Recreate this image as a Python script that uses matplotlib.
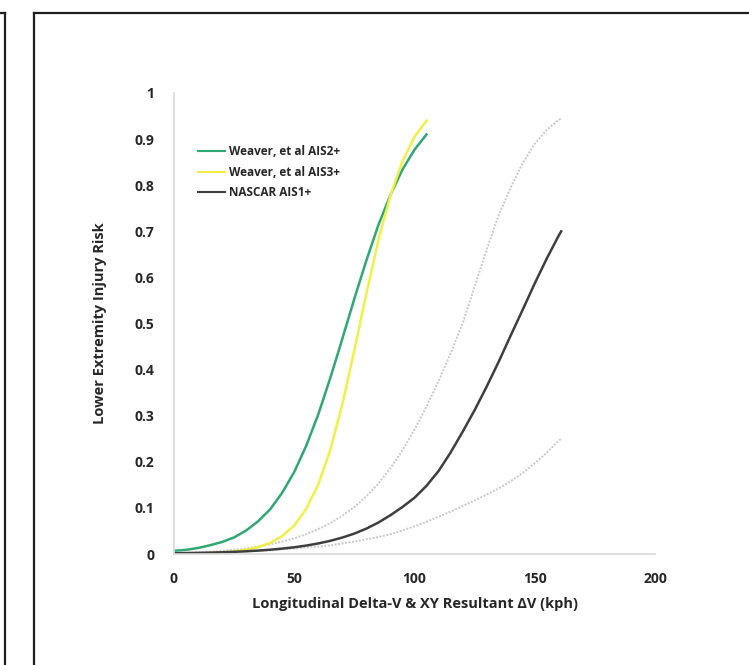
import matplotlib
matplotlib.use("Agg")
import matplotlib.pyplot as plt
from matplotlib.lines import Line2D

# Delta-V (kph) sample points for each risk curve
dv_weaver = [0, 5, 10, 15, 20, 25, 30, 35, 40, 45, 50, 55, 60, 65, 70,
             75, 80, 85, 90, 95, 100, 105]
risk_ais2 = [0.007, 0.009, 0.013, 0.019, 0.026, 0.036, 0.051, 0.071, 0.097,
             0.133, 0.178, 0.235, 0.303, 0.382, 0.467, 0.554, 0.637, 0.714,
             0.779, 0.834, 0.877, 0.910]
risk_ais3 = [0.0005, 0.0008, 0.0012, 0.002, 0.0033, 0.0055, 0.009, 0.015,
             0.024, 0.039, 0.062, 0.098, 0.151, 0.226, 0.325, 0.442, 0.565,
             0.681, 0.778, 0.852, 0.905, 0.940]

dv_nascar = [0, 5, 10, 15, 20, 25, 30, 35, 40, 45, 50, 55, 60, 65, 70, 75,
             80, 85, 90, 95, 100, 105, 110, 115, 120, 125, 130, 135, 140,
             145, 150, 155, 160, 161]
risk_ais1 = [0.0015, 0.0019, 0.0024, 0.003, 0.0038, 0.0047, 0.0059, 0.0074,
             0.0093, 0.0117, 0.0146, 0.0183, 0.0229, 0.0286, 0.0357, 0.0443,
             0.0551, 0.0683, 0.0842, 0.102, 0.122, 0.148, 0.180, 0.220,
             0.265, 0.312, 0.363, 0.417, 0.474, 0.530, 0.587, 0.641, 0.691,
             0.700]
band_upper = [0.002, 0.003, 0.004, 0.005, 0.007, 0.009, 0.012, 0.016, 0.021,
              0.027, 0.034, 0.043, 0.054, 0.067, 0.083, 0.102, 0.125, 0.153,
              0.186, 0.225, 0.270, 0.320, 0.375, 0.435, 0.500, 0.580, 0.660,
              0.735, 0.795, 0.848, 0.890, 0.920, 0.942, 0.944]
band_lower = [0.002, 0.002, 0.003, 0.003, 0.004, 0.005, 0.006, 0.007, 0.008,
              0.010, 0.012, 0.014, 0.016, 0.019, 0.023, 0.027, 0.032, 0.037,
              0.043, 0.051, 0.060, 0.070, 0.081, 0.092, 0.104, 0.116, 0.129,
              0.142, 0.158, 0.176, 0.197, 0.220, 0.246, 0.250]

x_ticks = [0, 50, 100, 150, 200]
y_ticks = [0, 0.1, 0.2, 0.3, 0.4, 0.5, 0.6, 0.7, 0.8, 0.9, 1]
y_tick_labels = ["0", "0.1", "0.2", "0.3", "0.4", "0.5", "0.6", "0.7",
                 "0.8", "0.9", "1"]

plt.rcParams["font.family"] = ["Open Sans", "DejaVu Sans"]

fig = plt.figure(figsize=(7.49, 6.65), dpi=100)
ax = fig.add_axes([174 / 749, 1 - 554 / 665, 481 / 749, 461 / 665])

dot = (0, (1, 0.8))
ax.plot(dv_nascar, band_upper, color="#c8c8c8", lw=1.4, linestyle=dot)
ax.plot(dv_nascar, band_lower, color="#c8c8c8", lw=1.4, linestyle=dot)
ax.plot(dv_weaver, risk_ais2, color="#2fa874", lw=1.8, label="Weaver, et al AIS2+")
ax.plot(dv_weaver, risk_ais3, color="#f0f046", lw=1.8, label="Weaver, et al AIS3+")
ax.plot(dv_nascar, risk_ais1, color="#3e3e3e", lw=1.8, label="NASCAR AIS1+")

ax.set_xlim(0, 200)
ax.set_ylim(0, 1)
ax.set_xticks(x_ticks)
ax.set_yticks(y_ticks)
ax.set_yticklabels(y_tick_labels)
ax.tick_params(length=0, labelsize=10, labelcolor="#262626")
ax.tick_params(axis="x", pad=13)
ax.tick_params(axis="y", pad=14)
for lab in ax.get_xticklabels() + ax.get_yticklabels():
    lab.set_fontweight("bold")

for side in ("top", "right"):
    ax.spines[side].set_visible(False)
for side in ("left", "bottom"):
    ax.spines[side].set_color("#d9d9d9")
    ax.spines[side].set_linewidth(1.2)

ax.set_xlabel("Longitudinal Delta-V & XY Resultant ΔV (kph)", fontsize=10.5,
              fontweight="bold", color="#262626", labelpad=8)
ax.set_ylabel("Lower Extremity Injury Risk", fontsize=10.5,
              fontweight="bold", color="#262626", labelpad=20)

leg = ax.legend(loc="upper left", bbox_to_anchor=(198 / 749, 1 - 145 / 665),
                bbox_transform=fig.transFigure, frameon=False, borderpad=0,
                borderaxespad=0, handlelength=2.3, handletextpad=0.3,
                labelspacing=0.65, prop={"size": 8.5, "weight": "bold"})
for t in leg.get_texts():
    t.set_color("#262626")
for h in leg.get_lines():
    h.set_linewidth(1.5)

# surrounding frame lines
W, H = 749, 665
def fline(x0, y0, x1, y1):
    fig.add_artist(Line2D([x0 / W, x1 / W], [1 - y0 / H, 1 - y1 / H],
                          transform=fig.transFigure, color="#1e1e1e", lw=1.6))

fline(0, 13, 5, 13)
fline(5, 13, 5, 665)
fline(34, 13, 749, 13)
fline(34, 13, 34, 665)

fig.savefig("out.png", dpi=100)
